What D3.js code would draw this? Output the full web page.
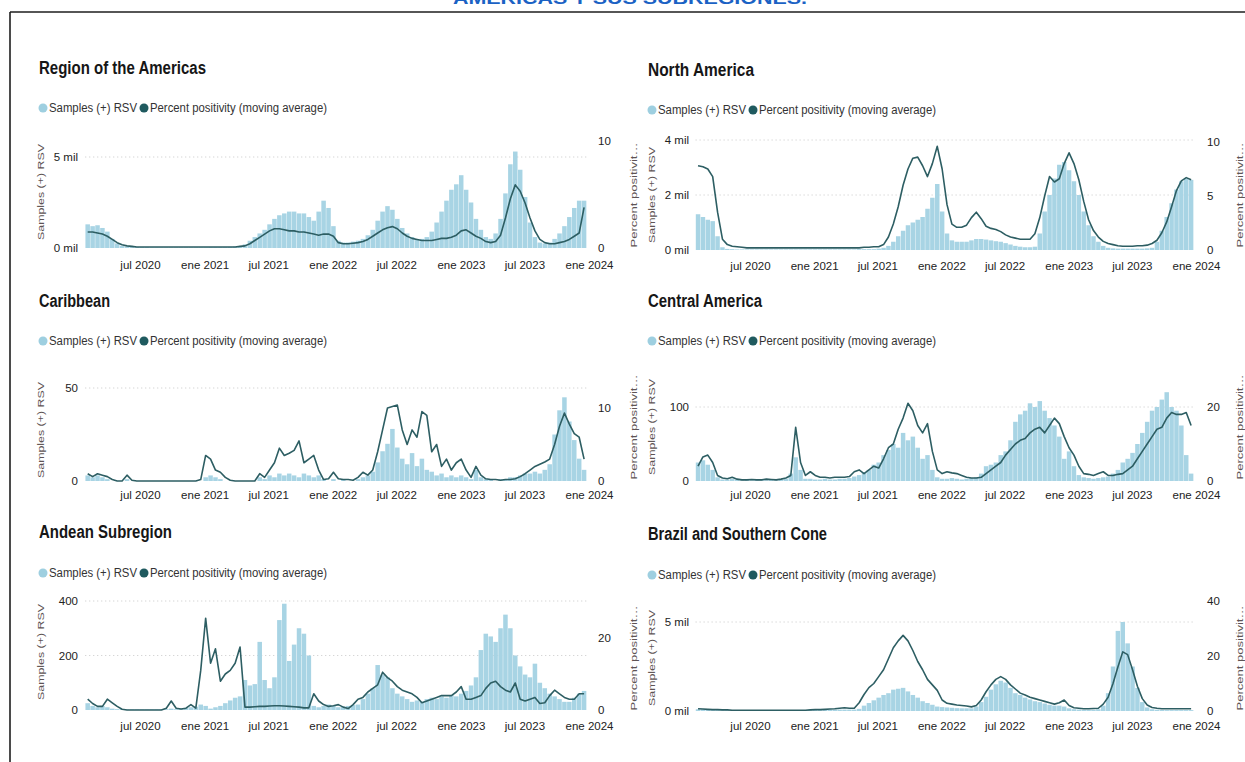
<!DOCTYPE html>
<html><head><meta charset="utf-8">
<script src="https://cdn.jsdelivr.net/npm/d3@7"></script>
<style>
body{margin:0;background:#fff;}
svg{display:block;font-family:'Liberation Sans',Arial,sans-serif;}
</style>
</head><body>
<svg id="c" width="1245" height="762"></svg>
<script>
// ---------------- DATA ----------------
const pageTitle = "AMÉRICAS Y SUS SUBREGIONES.";
const legendLabels = ["Samples (+) RSV", "Percent positivity (moving average)"];
const leftAxisTitle = "Samples (+) RSV";
const rightAxisTitle = "Percent positivit…";
const panelTitles = ["Region of the Americas","North America","Caribbean","Central America","Andean Subregion","Brazil and Southern Cone"];

// biweekly periods starting on 3 Feb 2020 (102 periods)
const firstPeriod = [2020, 1, 3];
const periodDays = 14;
const periodCount = 102;

const tickMonths = [[2020,6],[2021,0],[2021,6],[2022,0],[2022,6],[2023,0],[2023,6],[2024,0]];
const tickLabels = ["jul 2020","ene 2021","jul 2021","ene 2022","jul 2022","ene 2023","jul 2023","ene 2024"];

const americasSamples = [1300,1200,1250,1100,900,500,250,120,80,60,
 50,50,50,40,40,40,40,40,40,40,
 40,40,40,40,40,50,50,50,50,60,
 80,100,200,400,600,800,1000,1300,1600,1800,
 1900,2000,2000,1900,1900,1700,1500,2000,2600,2200,
 1200,400,300,300,350,400,500,700,1000,1500,
 2000,2300,2100,1600,1100,800,600,500,500,600,
 900,1400,2000,2600,3200,3500,4000,3200,2500,1600,
 1000,600,500,800,1600,3000,4600,5300,4300,2800,
 1400,600,300,250,300,500,800,1200,1700,2200,
 2600,2600];
const americasPct = [1.5,1.5,1.4,1.3,1.1,0.8,0.5,0.3,0.2,0.15,
 0.1,0.1,0.1,0.1,0.1,0.1,0.1,0.1,0.1,0.1,
 0.1,0.1,0.1,0.1,0.1,0.1,0.1,0.1,0.1,0.1,
 0.1,0.15,0.2,0.4,0.7,1.0,1.3,1.6,1.8,1.8,
 1.7,1.6,1.6,1.5,1.5,1.4,1.3,1.2,1.3,1.3,
 1.1,0.5,0.4,0.4,0.45,0.5,0.6,0.8,1.1,1.4,
 1.7,1.9,2.0,1.8,1.4,1.1,0.9,0.8,0.7,0.7,
 0.7,0.8,0.9,0.9,1.0,1.2,1.6,1.7,1.4,1.1,
 0.9,0.6,0.5,0.6,1.2,2.8,4.6,5.9,5.3,4.2,
 2.8,1.6,0.8,0.5,0.4,0.4,0.5,0.6,0.8,1.1,
 1.4,3.8];

const northAmericaSamples = [1300,1200,1100,1050,500,100,40,30,20,20,
 20,20,20,20,20,20,20,20,20,20,
 20,20,20,20,20,20,20,20,20,20,
 20,20,20,30,30,30,30,50,80,150,
 300,500,700,900,1000,1100,1200,1500,1900,2400,
 1400,600,350,300,300,300,350,400,400,380,
 350,320,300,250,200,150,120,100,100,120,
 600,1400,2000,2600,3100,3200,2900,2500,2000,1400,
 900,500,300,150,80,60,50,50,50,50,
 50,50,60,80,300,700,1200,1700,2200,2500,
 2600,2550];
const northAmericaPct = [7.8,7.7,7.5,6.8,3.5,1.0,0.5,0.35,0.3,0.25,
 0.2,0.2,0.2,0.2,0.2,0.2,0.2,0.2,0.2,0.2,
 0.2,0.2,0.2,0.2,0.2,0.2,0.2,0.2,0.2,0.2,
 0.2,0.2,0.2,0.2,0.25,0.25,0.3,0.3,0.5,1.2,
 2.4,4.0,6.0,7.5,8.5,8.6,7.8,6.8,8.0,9.6,
 7.5,4.2,2.4,2.1,2.1,2.3,3.0,3.5,2.9,2.2,
 2.0,1.9,1.7,1.4,1.2,1.1,1.0,1.0,1.0,1.5,
 3.0,5.0,6.8,6.3,6.6,8.0,9.0,8.0,6.5,4.5,
 2.8,1.8,1.2,0.8,0.6,0.5,0.4,0.35,0.35,0.35,
 0.4,0.4,0.45,0.6,0.9,1.6,2.6,4.0,5.5,6.4,
 6.7,6.5];

const caribbeanSamples = [3,2,3,2,1,0,0,0,1,0,
 0,0,0,0,0,0,0,0,0,0,
 0,0,0,0,2,3,2,1,0,0,
 0,0,0,0,0,2,1,3,2,4,
 3,4,3,2,4,3,2,3,1,0,
 1,0,1,0,0,1,2,3,5,10,
 16,20,28,18,12,9,15,8,12,6,
 5,3,4,2,3,2,3,2,1,6,
 2,1,1,0,1,1,2,2,3,4,
 4,5,4,6,9,25,38,45,32,22,
 12,6];
const caribbeanPct = [1.0,0.6,1.0,0.8,0.6,0.2,0,0,0.8,0.1,
 0,0,0,0,0,0,0,0,0,0,
 0,0,0,0.2,3.5,3.0,1.5,1.2,0.5,0.1,
 0,0,0,0,0,1.0,0.5,1.5,2.5,4.5,
 3.5,3.8,4.2,5.5,2.5,3.0,3.5,1.5,0.2,0.3,
 1.2,0.3,0.2,0.2,0.1,0.5,1.2,0.8,1.5,4.0,
 7.0,10.0,10.2,10.4,7.0,5.0,7.0,6.0,9.5,9.0,
 4.0,5.0,2.0,3.0,1.5,2.5,3.0,1.5,0.5,2.0,
 0.8,0.3,0.2,0.2,0.1,0.2,0.2,0.3,0.6,1.0,
 1.5,2.0,2.3,2.6,3.0,5.0,7.5,9.3,7.8,6.5,
 6.0,3.0];

const centralAmericaSamples = [25,28,22,15,5,2,2,3,2,1,
 2,1,2,2,1,2,1,2,3,10,
 32,15,3,3,2,2,3,2,2,3,
 3,4,6,8,12,15,22,25,35,42,
 50,45,65,55,60,45,30,35,15,5,
 3,3,4,3,2,3,4,5,10,20,
 22,25,35,40,55,80,90,95,105,100,
 108,95,85,75,60,30,40,20,8,5,
 4,3,4,5,6,10,15,25,30,38,
 50,65,80,95,100,110,120,100,95,75,
 35,10];
const centralAmericaPct = [4.0,6.5,7.0,5.0,1.5,0.8,0.6,1.0,0.5,0.3,
 0.3,0.4,0.3,0.3,0.5,0.4,0.3,0.5,0.8,1.5,
 14.5,5.0,1.5,2.5,1.5,1.0,1.0,0.8,1.0,1.0,
 1.0,1.2,2.5,3.0,2.0,3.0,4.0,3.5,6.0,9.0,
 10.0,14.0,17.0,21.0,19.0,15.0,13.0,15.5,8.0,3.0,
 2.0,2.5,2.2,2.0,1.5,1.0,0.8,0.8,1.0,2.0,
 3.0,4.0,5.0,7.0,8.5,10.0,11.0,11.5,13.0,14.0,
 14.5,13.0,15.0,17.0,15.5,12.0,9.0,7.0,4.0,2.0,
 1.8,1.5,2.0,2.5,1.5,1.5,1.8,2.0,3.0,4.0,
 6.0,8.0,10.0,12.0,14.0,14.5,17.0,18.5,18.0,18.0,
 18.5,15.0];

const andeanSamples = [25,15,10,15,10,5,3,3,2,2,
 2,2,2,2,2,2,3,5,3,5,
 8,10,12,20,15,5,10,15,25,35,
 45,50,110,90,95,250,110,80,120,330,
 390,180,240,300,280,200,15,10,15,20,
 15,10,12,15,18,20,40,60,80,165,
 130,120,80,60,50,40,30,35,30,40,
 45,40,50,45,55,50,60,70,90,120,
 220,280,270,250,300,350,300,200,160,130,
 120,170,100,80,60,50,40,30,30,45,
 60,70];
const andeanPct = [3.0,1.8,1.0,1.0,3.0,2.0,1.0,0.2,0,0,
 0,0,0,0,0,0,0.5,2.5,0.5,0.3,
 0.5,1.5,0.5,11.0,25.5,13.0,17.0,8.0,10.0,11.0,
 13.0,17.5,0.8,0.8,0.9,1.0,1.0,1.1,1.2,1.2,
 1.1,1.0,0.9,0.8,0.6,0.6,4.5,2.5,1.5,1.0,
 1.2,1.5,0.8,0.4,1.5,3.0,3.5,5.0,6.0,7.0,
 10.5,9.0,8.0,6.5,5.5,5.0,4.5,3.5,2.0,2.5,
 3.0,3.5,4.0,4.0,4.0,5.0,6.5,3.0,3.0,3.5,
 4.0,6.0,7.5,8.0,6.5,5.5,5.0,7.5,3.0,2.5,
 3.0,3.5,1.8,2.0,4.0,5.5,4.5,3.5,3.0,3.0,
 4.5,4.5];

const brazilSamples = [100,100,80,80,60,50,50,50,50,50,
 50,50,50,50,50,50,50,50,50,50,
 50,50,50,60,60,70,80,80,80,80,
 80,80,80,120,300,450,600,750,900,1000,
 1200,1250,1300,1100,900,750,550,450,350,250,
 220,200,180,160,150,150,150,250,500,800,
 1200,1500,1700,1600,1300,1000,900,750,650,550,
 500,420,350,300,300,250,150,100,80,70,
 70,70,100,300,1000,2500,4500,5000,3800,2500,
 1300,500,200,100,70,60,50,50,50,50,
 50,50];
const brazilPct = [0.8,0.7,0.6,0.5,0.5,0.4,0.4,0.3,0.3,0.3,
 0.3,0.3,0.3,0.3,0.3,0.3,0.3,0.3,0.3,0.3,
 0.3,0.3,0.3,0.4,0.5,0.5,0.6,0.7,0.8,1.0,
 1.2,1.0,1.0,3.0,6.0,8.5,10.0,12.5,15.0,19.0,
 23.0,25.5,27.5,25.5,22.0,18.0,15.0,11.5,9.5,7.5,
 4.0,2.8,2.5,2.2,2.0,1.8,1.5,2.0,4.0,7.0,
 9.5,11.5,12.5,11.5,9.5,8.0,6.5,5.8,5.0,4.5,
 4.0,3.5,3.0,2.5,3.0,4.0,2.0,1.2,1.0,0.8,
 0.8,0.9,1.0,2.5,5.0,10.0,16.0,21.5,20.5,15.0,
 9.0,4.5,2.2,1.3,1.0,0.8,0.8,0.8,0.8,0.8,
 0.8,0.8];

const americasLeftTicks = [0,5000],  americasRightTicks = [0,10];
const northAmericaLeftTicks = [0,2000,4000], northAmericaRightTicks = [0,5,10];
const caribbeanLeftTicks = [0,50], caribbeanRightTicks = [0,10];
const centralAmericaLeftTicks = [0,100], centralAmericaRightTicks = [0,20];
const andeanLeftTicks = [0,200,400], andeanRightTicks = [0,20];
const brazilLeftTicks = [0,5000], brazilRightTicks = [0,20,40];

// ---------------- LAYOUT ----------------
const W = 1245, H = 762;
const FONT = "'Liberation Sans', Arial, sans-serif";
const BAR = "#a8d4e4", LINE = "#2d5e63", LEG1 = "#9ecfe0", LEG2 = "#1f5a5f";

const cols = [
  {xr:[140,589], leftLabX:78, rightLabX:598, titleX:39, legendX:43, sTitleX:41, pTitleX:634},
  {xr:[750,1196], leftLabX:689, rightLabX:1207, titleX:648, legendX:652, sTitleX:652, pTitleX:1240}
];
const panels = [
  {samples:americasSamples, pct:americasPct, lt:americasLeftTicks, rt:americasRightTicks, mil:true,
   col:0, titleY:68, titleW:167, legendY:108, base:248, lTopY:157, rTopY:141, sY:192, pY:195, xLabY:266},
  {samples:northAmericaSamples, pct:northAmericaPct, lt:northAmericaLeftTicks, rt:northAmericaRightTicks, mil:true,
   col:1, titleY:70, titleW:106, legendY:110, base:250, lTopY:140, rTopY:142, sY:195, pY:195, xLabY:267},
  {samples:caribbeanSamples, pct:caribbeanPct, lt:caribbeanLeftTicks, rt:caribbeanRightTicks, mil:false,
   col:0, titleY:301, titleW:71, legendY:341, base:481, lTopY:388, rTopY:408, sY:430, pY:427, xLabY:496},
  {samples:centralAmericaSamples, pct:centralAmericaPct, lt:centralAmericaLeftTicks, rt:centralAmericaRightTicks, mil:false,
   col:1, titleY:301, titleW:114, legendY:341, base:481, lTopY:407, rTopY:407, sY:427, pY:427, xLabY:496},
  {samples:andeanSamples, pct:andeanPct, lt:andeanLeftTicks, rt:andeanRightTicks, mil:false,
   col:0, titleY:532, titleW:133, legendY:573, base:710, lTopY:601, rTopY:638, sY:652, pY:658, xLabY:727},
  {samples:brazilSamples, pct:brazilPct, lt:brazilLeftTicks, rt:brazilRightTicks, mil:true,
   col:1, titleY:534, titleW:179, legendY:575, base:711, lTopY:622, rTopY:601, sY:658, pY:658, xLabY:727}
];

const periods = d3.range(periodCount).map(i => new Date(firstPeriod[0], firstPeriod[1], firstPeriod[2] + periodDays * i));
const tickDates = tickMonths.map(m => new Date(m[0], m[1], 1));

const svg = d3.select("#c").attr("font-family", FONT);
svg.append("rect").attr("width", W).attr("height", H).attr("fill", "#fff");

// page frame + title cut by the top edge (as in the scan)
svg.append("text").attr("x", 630).attr("y", 4).attr("text-anchor", "middle")
  .attr("font-weight", "bold").attr("font-size", 17).attr("fill", "#1b62c4")
  .attr("textLength", 354).attr("lengthAdjust", "spacingAndGlyphs").text(pageTitle);
svg.append("line").attr("x1", 10).attr("y1", 12).attr("x2", W).attr("y2", 12).attr("stroke", "#1e1e1e").attr("stroke-width", 1.6);
svg.append("line").attr("x1", 10).attr("y1", 12).attr("x2", 10).attr("y2", H).attr("stroke", "#1e1e1e").attr("stroke-width", 1.6);

panels.forEach((p, k) => {
  const c = cols[p.col];
  const g = svg.append("g");
  const x = d3.scaleTime().domain([tickDates[0], tickDates[tickDates.length - 1]]).range(c.xr);
  const step = x(periods[1]) - x(periods[0]);
  const plotL = x(periods[0]) - step / 2, plotR = x(periods[periodCount - 1]) + step / 2;
  const lMax = d3.max(p.lt), rMax = d3.max(p.rt);
  const yL = d3.scaleLinear().domain([0, lMax]).range([p.base, p.lTopY]);
  const yR = d3.scaleLinear().domain([0, rMax]).range([p.base, p.rTopY]);

  // title
  g.append("text").attr("x", c.titleX).attr("y", p.titleY + 6).attr("font-weight", "bold")
    .attr("font-size", 18).attr("fill", "#161616").attr("textLength", p.titleW)
    .attr("lengthAdjust", "spacingAndGlyphs").text(panelTitles[k]);

  // legend
  const lg = g.append("g").attr("transform", `translate(${c.legendX},${p.legendY})`);
  lg.append("circle").attr("cx", 0).attr("cy", 0).attr("r", 4.5).attr("fill", LEG1);
  lg.append("text").attr("x", 6).attr("y", 0).attr("dy", "0.35em").attr("font-size", 12).attr("fill", "#333")
    .attr("textLength", 88).attr("lengthAdjust", "spacingAndGlyphs").text(legendLabels[0]);
  lg.append("circle").attr("cx", 101).attr("cy", 0).attr("r", 4.5).attr("fill", LEG2);
  lg.append("text").attr("x", 107).attr("y", 0).attr("dy", "0.35em").attr("font-size", 12).attr("fill", "#333")
    .attr("textLength", 177).attr("lengthAdjust", "spacingAndGlyphs").text(legendLabels[1]);

  // gridlines
  g.selectAll("line.grid").data(p.lt.filter(t => t > 0)).join("line").attr("class", "grid")
    .attr("x1", plotL).attr("x2", plotR).attr("y1", d => yL(d)).attr("y2", d => yL(d))
    .attr("stroke", "#bdbdbd").attr("stroke-width", 1).attr("stroke-dasharray", "1,3").attr("opacity", 0.8);

  // bars
  g.append("g").selectAll("rect").data(p.samples).join("rect")
    .attr("x", (d, i) => x(periods[i]) - step / 2 + 0.2)
    .attr("width", step - 0.4)
    .attr("y", d => yL(d))
    .attr("height", d => p.base - yL(d))
    .attr("fill", BAR);

  // line
  const line = d3.line().x((d, i) => x(periods[i])).y(d => yR(d));
  g.append("path").datum(p.pct).attr("d", line).attr("fill", "none")
    .attr("stroke", LINE).attr("stroke-width", 1.6).attr("stroke-linejoin", "round");

  // axes
  const fmt = p.mil ? (d => (d / 1000) + " mil") : (d => d);
  const la = g.append("g").attr("transform", `translate(${c.leftLabX},0)`)
    .call(d3.axisLeft(yL).tickValues(p.lt).tickSize(0).tickPadding(0).tickFormat(fmt));
  const ra = g.append("g").attr("transform", `translate(${c.rightLabX},0)`)
    .call(d3.axisRight(yR).tickValues(p.rt).tickSize(0).tickPadding(0));
  const xa = g.append("g").attr("transform", `translate(0,${p.xLabY - 5})`)
    .call(d3.axisBottom(x).tickValues(tickDates).tickSize(0).tickPadding(0).tickFormat((d, i) => tickLabels[i]));
  [la, ra, xa].forEach(a => {
    a.select(".domain").remove();
    a.attr("font-family", FONT).attr("font-size", 11.5);
    a.selectAll("text").attr("fill", "#222");
  });

  // rotated axis titles
  g.append("text").attr("transform", `translate(${c.sTitleX},${p.sY}) rotate(-90)`)
    .attr("text-anchor", "middle").attr("dy", "0.35em").attr("font-size", 9.5).attr("fill", "#5e5454")
    .attr("textLength", 96).attr("lengthAdjust", "spacingAndGlyphs").text(leftAxisTitle);
  g.append("text").attr("transform", `translate(${c.pTitleX},${p.pY}) rotate(-90)`)
    .attr("text-anchor", "middle").attr("dy", "0.35em").attr("font-size", 9.5).attr("fill", "#5e5454")
    .attr("textLength", 105).attr("lengthAdjust", "spacingAndGlyphs").text(rightAxisTitle);
});
</script>
</body></html>
